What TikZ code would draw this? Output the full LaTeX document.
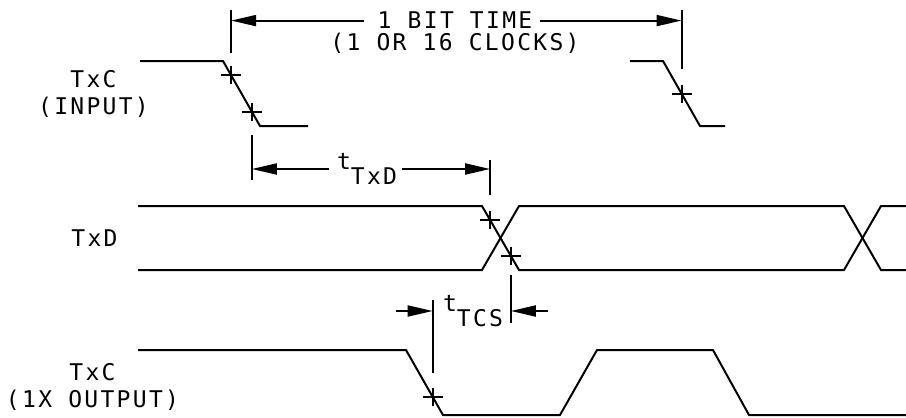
\documentclass[tikz,border=0pt]{standalone}
\usepackage{fontspec}
\usepackage{tikz}
\usetikzlibrary{arrows.meta, calc, positioning}
\newfontfamily\plotter[LetterSpace=10]{DejaVu Sans Mono}
\newcommand{\tickmark}[1]{\draw[wave] (#1) +(-10,0) -- +(10,0) (#1) +(0,-9) -- +(0,9);}

\begin{document}
\begin{tikzpicture}[x=1pt,y=-1pt,
	wave/.style={line width=2pt, line join=miter},
	dim/.style={line width=2pt, -{Triangle[length=25pt,width=11pt]}},
	lbl/.style={font=\plotter\fontsize{23}{27}\selectfont, inner sep=0pt, align=center}]
	\useasboundingbox (0,0) rectangle (906,418);
	
	%----------------------------------------------------------------
	\coordinate (ia) at (223,61);
	\coordinate (ib) at (260,126);
	\coordinate (ja) at (663,61);
	\coordinate (jb) at (700,126);
	\coordinate (da) at (482,206);
	\coordinate (db) at (519,270);
	\coordinate (dd) at (482,270);
	\coordinate (de) at (519,206);
	\coordinate (ea) at (844,206);
	\coordinate (eb) at (881,270);
	\coordinate (ed) at (844,270);
	\coordinate (ee) at (881,206);
	\coordinate (oa) at (406,350);
	\coordinate (ob) at (443,415);
	
	\coordinate (ic1) at ($(ia)!0.22!(ib)$);
	\coordinate (ic2) at ($(ia)!0.78!(ib)$);
	\coordinate (jc) at ($(ja)!0.5!(jb)$);
	\coordinate (dc1) at ($(da)!0.22!(db)$);
	\coordinate (dc2) at ($(da)!0.78!(db)$);
	\coordinate (oc) at ($(oa)!0.72!(ob)$);
	
	%----------------------------------------------------------------
	\draw[wave] (140,61) -- (ia) -- (ib) -- (308,126);
	\draw[wave] (630,61) -- (ja) -- (jb) -- (725,126);
	
	\draw[wave] (138,206) -- (da) -- (db) -- (ed) -- (ee) -- (906,206);
	\draw[wave] (138,270) -- (dd) -- (de) -- (ea) -- (eb) -- (906,270);
	
	\draw[wave] (138,350) -- (oa) -- (ob) -- (560,415) -- (597,350)
		-- (713,350) -- (749,415) -- (906,415);
	
	\tickmark{ic1}
	\tickmark{ic2}
	\tickmark{jc}
	\tickmark{dc1}
	\tickmark{dc2}
	\tickmark{oc}
	
	%----------------------------------------------------------------
	\node (txcin) [lbl, anchor=north] at (93.5,70) {TxC\\(INPUT)};
	\node (txd) [lbl, anchor=north] at (94.5,230) {TxD};
	\node (txcout) [lbl, anchor=north] at (92.5,363) {TxC\\(1X OUTPUT)};
	
	\node (bit) [lbl, anchor=north] at (455,12) {1 BIT TIME};
	\node (clk) [lbl, below=4pt of bit] {(1 OR 16 CLOCKS)};
	\node (ttxd) [lbl] at (367,169) {t\raisebox{-15pt}{TxD}};
	\node (ttcs) [lbl] at (473,311) {t\raisebox{-15pt}{TCS}};
	
	%----------------------------------------------------------------
	\draw[wave] (ic1 |- 0,10) -- (ic1 |- 0,53);
	\draw[wave] (jc |- 0,10) -- (jc |- 0,69);
	\draw[wave] (ic2 |- 0,135) -- (ic2 |- 0,180);
	\draw[wave] (dc1 |- 0,160) -- (dc1 |- 0,195);
	\draw[wave] (oc |- 0,300) -- (oc |- 0,373);
	\draw[wave] (dc2 |- 0,275) -- (dc2 |- 0,323);
	
	\draw[dim] ([xshift=-14pt]bit.west) -- (bit.west -| ic1);
	\draw[dim] ([xshift=8pt]bit.east) -- (bit.east -| jc);
	\draw[dim] ([xshift=-8pt]ttxd.west) -- (ttxd.west -| ic2);
	\draw[dim] ([xshift=5pt]ttxd.east) -- (ttxd.east -| dc1);
	
	\coordinate (tcsl) at (ttcs.west -| oc);
	\coordinate (tcsr) at (ttcs.east -| dc2);
	\draw[dim] ([xshift=-37pt]tcsl) -- (tcsl);
	\draw[dim] ([xshift=37pt]tcsr) -- (tcsr);
\end{tikzpicture}
\end{document}
